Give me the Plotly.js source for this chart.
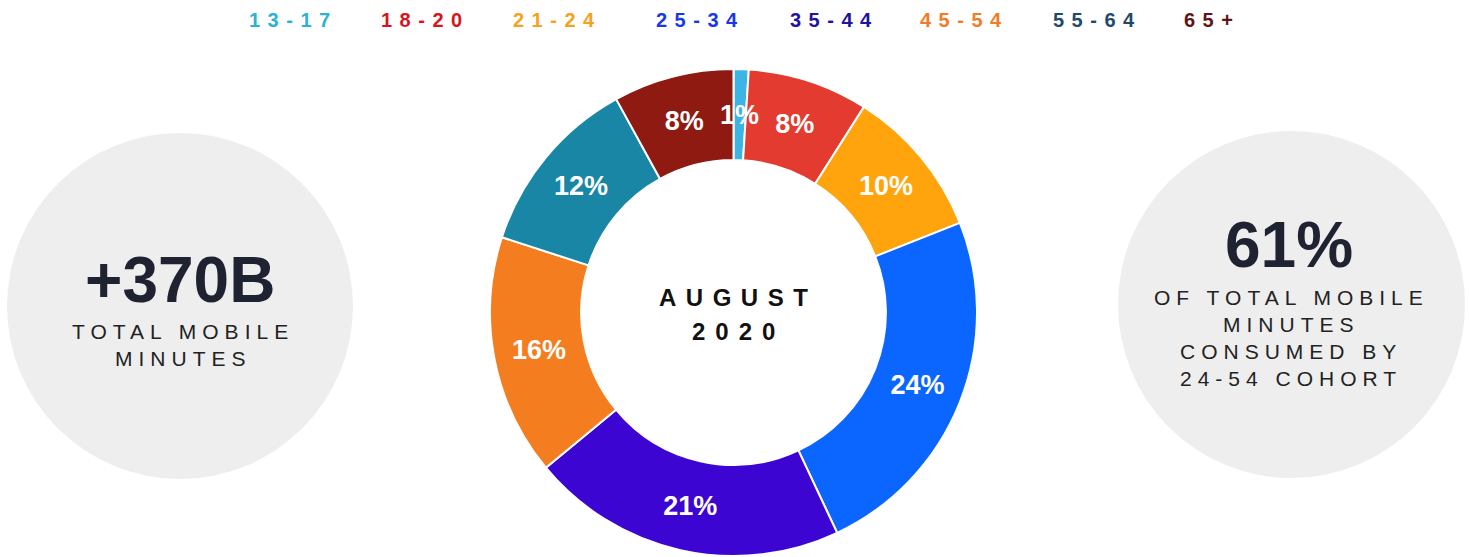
<!DOCTYPE html>
<html>
<head>
<meta charset="utf-8">
<script src="https://cdn.plot.ly/plotly-3.0.1.min.js"></script>
<style>
  html, body { margin: 0; padding: 0; background: #ffffff; }
  #chart { width: 1469px; height: 557px; }
</style>
</head>
<body>
<div id="chart"></div>
<script>
// ---- data ----
const categories = ['13-17', '18-20', '21-24', '25-34', '35-44', '45-54', '55-64', '65+'];
const shares = [1, 8, 10, 24, 21, 16, 12, 8];
const sliceColors = ['#3cb5e4', '#e33b2f', '#ffa40c', '#0a66ff', '#3d05d2', '#f47d20', '#1a86a6', '#8e1a11'];
const legendColors = ['#2bb3d3', '#d8141f', '#f6a21c', '#1839e6', '#23129f', '#f47b26', '#1f4a6c', '#5e1515'];
const centerLines = ['AUGUST', '2020'];
const leftBig = '+370B';
const leftLines = ['TOTAL MOBILE', 'MINUTES'];
const rightBig = '61%';
const rightLines = ['OF TOTAL MOBILE', 'MINUTES', 'CONSUMED BY', '24-54 COHORT'];

// ---- layout helpers (pixel -> paper) ----
const W = 1469, H = 557;
const px = x => x / W;
const py = y => 1 - y / H;
const FONT = 'Liberation Sans, Arial, Helvetica, sans-serif';
const legendX = [290, 422, 554, 697, 831, 961, 1094, 1208];

// pie geometry (layout)
const pieDom = { x: [px(490), px(977)], y: [py(556), py(69)] };
const HOLE = 0.626;

function spaced(t, ls) {
  return '<span style="letter-spacing:' + ls + 'px">' + t + '</span>';
}
function ann(text, x, y, size, color, weight, ls) {
  return {
    text: ls ? spaced(text, ls) : text,
    x: px(x), y: py(y), xref: 'paper', yref: 'paper',
    xanchor: 'center', yanchor: 'middle', showarrow: false,
    xshift: ls ? ls / 2 : 0,
    font: { family: FONT, size: size, color: color, weight: weight }
  };
}

const annotations = [];
categories.forEach((c, i) => annotations.push(ann(c, legendX[i], 20, 20, legendColors[i], 700, 7.5)));
annotations.push(ann(centerLines[0], 733, 297, 24, '#111111', 700, 9.5));
annotations.push(ann(centerLines[1], 733, 331, 24, '#111111', 700, 10));
annotations.push(ann(leftBig, 180, 280, 64, '#1f2230', 700, 0));
leftLines.forEach((t, i) => annotations.push(ann(t, 180, 331 + i * 27, 21, '#222222', 400, 6)));
annotations.push(ann(rightBig, 1289, 245, 64, '#1f2230', 700, 0));
rightLines.forEach((t, i) => annotations.push(ann(t, 1288, 297 + i * 27, 21, '#222222', 400, 6)));

// label of the thin first slice, drawn on top of neighbouring slices
// placed at its mid-angle and mid-ring radius, derived from the data
(function () {
  const total = shares.reduce((a, b) => a + b, 0);
  const cx = (pieDom.x[0] + pieDom.x[1]) / 2 * W;
  const cy = (1 - (pieDom.y[0] + pieDom.y[1]) / 2) * H;
  const R = (pieDom.y[1] - pieDom.y[0]) * H / 2;
  const rMid = R * (1 + HOLE) / 2;
  const ang = (shares[0] / 2) / total * 2 * Math.PI;
  const a = ann(shares[0] + '%', cx + rMid * Math.sin(ang), cy - rMid * Math.cos(ang), 27, '#ffffff', 700, 0);
  annotations.push(a);
})();

const shapes = [
  { type: 'circle', xref: 'paper', yref: 'paper', layer: 'below',
    x0: px(7), x1: px(353), y0: py(479), y1: py(133),
    fillcolor: '#eeeeee', line: { width: 0 } },
  { type: 'circle', xref: 'paper', yref: 'paper', layer: 'below',
    x0: px(1118), x1: px(1465), y0: py(478), y1: py(131),
    fillcolor: '#eeeeee', line: { width: 0 } }
];

const trace = {
  type: 'pie',
  labels: categories,
  values: shares,
  sort: false,
  direction: 'clockwise',
  rotation: 0,
  hole: HOLE,
  marker: { colors: sliceColors, line: { color: '#ffffff', width: 2 } },
  texttemplate: '%{value}%',
  textposition: shares.map((v, i) => i === 0 ? 'none' : 'inside'),
  insidetextorientation: 'horizontal',
  textfont: { family: FONT, size: 27, color: '#ffffff', weight: 700 },
  domain: pieDom,
  showlegend: false,
  hoverinfo: 'label+percent'
};

const layout = {
  width: W, height: H,
  margin: { l: 0, r: 0, t: 0, b: 0 },
  paper_bgcolor: '#ffffff',
  plot_bgcolor: '#ffffff',
  showlegend: false,
  uniformtext: { mode: 'show', minsize: 27 },
  annotations: annotations,
  shapes: shapes
};

Plotly.newPlot('chart', [trace], layout, { displayModeBar: false, staticPlot: true });
</script>
</body>
</html>
